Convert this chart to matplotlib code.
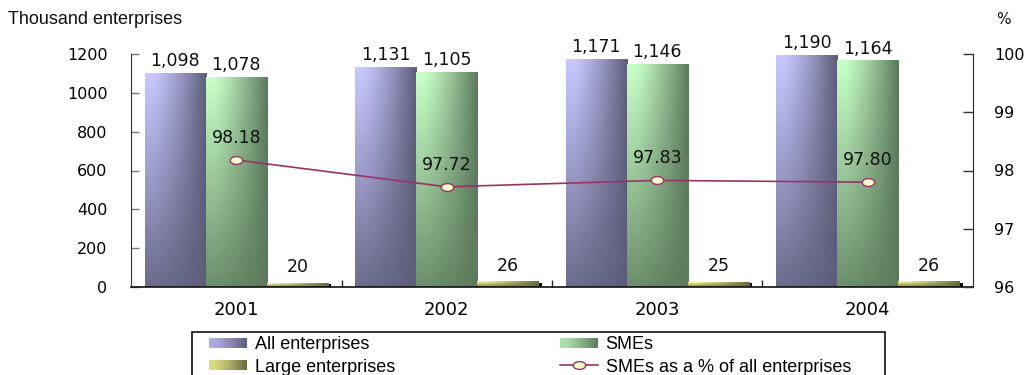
import numpy as np
import matplotlib
matplotlib.use('Agg')
import matplotlib.pyplot as plt
from matplotlib.patches import Rectangle
from matplotlib.legend_handler import HandlerBase
from matplotlib.lines import Line2D
from matplotlib.path import Path
from matplotlib.transforms import Affine2D

# ---------------- data ----------------
years = ['2001', '2002', '2003', '2004']
all_enterprises = [1098, 1131, 1171, 1190]
smes = [1078, 1105, 1146, 1164]
large_enterprises = [20, 26, 25, 26]
sme_share = [98.18, 97.72, 97.83, 97.80]
left_ticks = [0, 200, 400, 600, 800, 1000, 1200]
right_ticks = [96, 97, 98, 99, 100]

# ---------------- style ----------------
W, H = 1030, 375
DPI = 100
C_ALL = ((200, 200, 255), (92, 92, 122))
C_SME = ((200, 255, 200), (92, 122, 92))
C_LARGE = ((255, 255, 150), (105, 105, 62))
LINE_COLOR = '#993366'
MARK_FILL = '#FFFFCC'
BAR_W = 0.29


def grad_color(light, dark, u, v):
    L = np.array(light) / 255.0
    D = np.array(dark) / 255.0
    hx = np.clip((u - 0.12) / 0.88, 0, 1) ** 1.2
    t = 1 - (1 - hx) * (1 - v)
    t = np.clip(t, 0, 1)
    return L * (1 - t[..., None]) + D * t[..., None]


def grad_img(light, dark, rows=80, cols=48):
    u = np.linspace(0, 1, cols)[None, :] * np.ones((rows, 1))
    v = np.linspace(0, 0.85, rows)[:, None] * np.ones((1, cols))
    return grad_color(light, dark, u, v)


fig = plt.figure(figsize=(W / DPI, H / DPI), dpi=DPI)
ax = fig.add_axes([131 / W, 1 - 287 / H, (973 - 131) / W, (287 - 54) / H])
ax2 = ax.twinx()

x = np.arange(len(years))
ax.set_xlim(-0.5, len(years) - 0.5)
ax.set_ylim(0, 1200)


def draw_bars(vals, offset, colors, shadow=False):
    img = grad_img(*colors)
    for xi, v in zip(x, vals):
        x0 = xi + offset - BAR_W / 2
        x1 = x0 + BAR_W
        if shadow:
            ax.add_patch(Rectangle((x1 - 0.005, 0), 0.022, v * 0.8,
                                   facecolor='black', edgecolor='none', zorder=1))
        ax.imshow(img, extent=(x0, x1, 0, v), aspect='auto',
                  interpolation='bilinear', zorder=2)


draw_bars(all_enterprises, -BAR_W, C_ALL)
draw_bars(smes, 0.0, C_SME)
draw_bars(large_enterprises, BAR_W, C_LARGE, shadow=True)
ax.set_xlim(-0.5, len(years) - 0.5)
ax.set_ylim(0, 1200)

label_font = dict(family='DejaVu Sans', size=12.5, color='#111111')
for xi, v in zip(x, all_enterprises):
    ax.annotate(f'{v:,}', (xi - BAR_W, v), xytext=(0, 2.5), textcoords='offset points',
                ha='center', va='bottom', **label_font)
for xi, v in zip(x, smes):
    ax.annotate(f'{v:,}', (xi, v), xytext=(0, 2.5), textcoords='offset points',
                ha='center', va='bottom', **label_font)
for xi, v in zip(x, large_enterprises):
    ax.annotate(f'{v:,}', (xi + BAR_W, v), xytext=(0, 5), textcoords='offset points',
                ha='center', va='bottom', **label_font)

# axes styling
ax.set_yticks(left_ticks)
ax.set_yticklabels([str(t) for t in left_ticks], family='DejaVu Sans', fontsize=11.5)
ax.tick_params(axis='y', direction='in', length=6, width=1, color='#777777', pad=17)
ax.set_xticks(x)
ax.set_xticklabels(years, family='DejaVu Sans', fontsize=13)
ax.set_xticks(x[:-1] + 0.5, minor=True)
ax.tick_params(axis='x', which='major', length=0, pad=10)
ax.tick_params(axis='x', which='minor', direction='in', length=5, width=1, color='#222222')
for s in ['top', 'right']:
    ax.spines[s].set_visible(False)
ax.spines['left'].set_color('#333333')
ax.spines['bottom'].set_color('#111111')
ax.spines['bottom'].set_linewidth(1.2)

# line on secondary axis
ellipse = Path.unit_circle().transformed(Affine2D().scale(1.6, 1.0))
ax2.plot(x, sme_share, color=LINE_COLOR, lw=1.2, marker=ellipse, ms=9,
         mfc=MARK_FILL, mec=LINE_COLOR, mew=1.0, zorder=5)
ax2.set_ylim(96, 100)
ax2.set_yticks(right_ticks)
ax2.set_yticklabels([str(t) for t in right_ticks], family='DejaVu Sans', fontsize=11.5)
ax2.tick_params(axis='y', direction='in', length=7, width=1, color='#333333', pad=15)
for s in ['top', 'left', 'bottom']:
    ax2.spines[s].set_visible(False)
ax2.spines['right'].set_color('#222222')
for xi, v in zip(x, sme_share):
    ax2.annotate(f'{v:.2f}', (xi, v), xytext=(0, 16), textcoords='offset points',
                 ha='center', va='center', **label_font)

# figure texts
fig.text(8 / W, 1 - 19 / H, 'Thousand enterprises', family='Liberation Sans',
         fontsize=13, ha='left', va='center', color='#111111')
fig.text(1003 / W, 1 - 19 / H, '%', family='DejaVu Sans', fontsize=11,
         ha='center', va='center', color='#111111')


# legend
class GradHandler(HandlerBase):
    def __init__(self, colors, off=9.4, h=7.2):
        super().__init__()
        self.colors = colors
        self.off = off
        self.h = h

    def create_artists(self, legend, orig_handle, xdescent, ydescent,
                       width, height, fontsize, trans):
        arts = []
        x0 = -xdescent + self.off
        w = width - self.off
        y0 = -ydescent + (height - self.h) / 2
        n = 30
        for i in range(n):
            u = np.array([(i + 0.5) / n])
            c = grad_color(self.colors[0], self.colors[1], u, np.array([0.25]))[0]
            arts.append(Rectangle((x0 + w * i / n, y0), w / n * 1.08, self.h,
                                  facecolor=c, edgecolor='none', transform=trans))
        return arts


class LineHandler(HandlerBase):
    def __init__(self, off=9.4):
        super().__init__()
        self.off = off

    def create_artists(self, legend, orig_handle, xdescent, ydescent,
                       width, height, fontsize, trans):
        x0 = -xdescent + self.off
        x1 = -xdescent + width
        ym = -ydescent + height / 2
        ln = Line2D([x0, x1], [ym, ym], color=LINE_COLOR, lw=1.2, transform=trans)
        mk = Line2D([(x0 + x1) / 2], [ym], marker=ellipse, ms=9, mfc=MARK_FILL,
                    mec=LINE_COLOR, mew=1.0, ls='none', transform=trans)
        return [ln, mk]


p_all = Rectangle((0, 0), 1, 1)
p_sme = Rectangle((0, 0), 1, 1)
p_large = Rectangle((0, 0), 1, 1)
l_pct = Line2D([0], [0])
handles = [p_all, p_large, p_sme, l_pct]
labels = ['All enterprises', 'Large enterprises', 'SMEs', 'SMEs as a % of all enterprises']
fig.legend(handles, labels, ncol=2, loc='upper left',
           bbox_to_anchor=(196 / W, 1 - 336 / H), borderaxespad=0, borderpad=0,
           frameon=False, prop=dict(family='Liberation Sans', size=13),
           handlelength=2.82, handletextpad=0.44, columnspacing=8.4,
           labelspacing=0.32,
           handler_map={p_all: GradHandler(C_ALL), p_sme: GradHandler(C_SME),
                        p_large: GradHandler(C_LARGE), l_pct: LineHandler()})
fig.patches.append(Rectangle((192 / W, -0.1), (885 - 192) / W, 0.1 + (H - 332) / H,
                             transform=fig.transFigure, fill=False,
                             edgecolor='#111111', linewidth=1.2))

fig.savefig('out.png', dpi=DPI)
